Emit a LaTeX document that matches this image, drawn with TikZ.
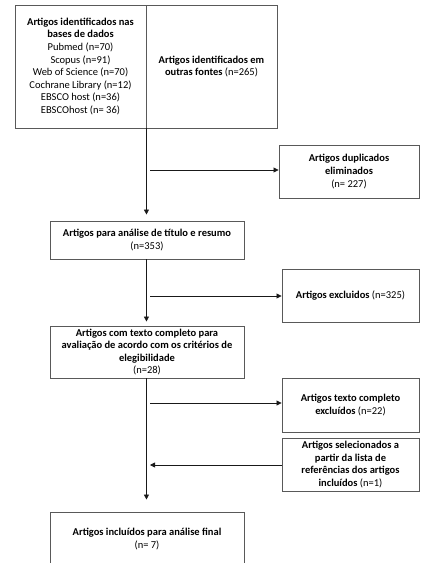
\documentclass[tikz,border=0pt]{standalone}
\usepackage{fontspec}
\setmainfont{Carlito}
\usetikzlibrary{arrows.meta}
\begin{document}
\begin{tikzpicture}[x=1pt,y=-1pt,
  box/.style={draw=black!65, line width=0.9pt, align=center, inner sep=0pt,
    font=\fontsize{10.5}{12.6}\selectfont},
  conn/.style={line width=0.8pt, draw=black!90, -{Triangle[length=5pt,width=5pt]}},
]
\useasboundingbox (0,0) rectangle (424,563);
\clip (0,0) rectangle (424,563);
% top split box
\node[box, minimum width=131pt, minimum height=123pt] (src1) at (80.5,66.5)
  {\textbf{Artigos identificados nas}\\\textbf{bases de dados}\\Pubmed (n=70)\\Scopus (n=91)\\Web of Science (n=70)\\Cochrane Library (n=12)\\EBSCO host (n=36)\\EBSCOhost (n= 36)};
\node[box, minimum width=131pt, minimum height=123pt] (src2) at (211.5,66.5)
  {\textbf{Artigos identificados em}\\\textbf{outras fontes} (n=265)};
% right column
\node[box, minimum width=140pt, minimum height=53pt] (dup) at (349,171.5)
  {\textbf{Artigos duplicados}\\\textbf{eliminados}\\(n= 227)};
\node[box, minimum width=137pt, minimum height=53pt] (excl) at (350.5,295.5)
  {\textbf{Artigos excluidos} (n=325)};
\node[box, minimum width=137pt, minimum height=54pt] (fullex) at (350.5,405)
  {\textbf{Artigos texto completo}\\\textbf{excluídos} (n=22)};
\node[box, minimum width=137pt, minimum height=53pt] (refs) at (350.5,464.5)
  {\textbf{Artigos selecionados a}\\\textbf{partir da lista de}\\\textbf{referências dos artigos}\\\textbf{incluídos} (n=1)};
% main column
\node[box, minimum width=194pt, minimum height=38pt] (screen) at (147,240)
  {\textbf{Artigos para análise de título e resumo}\\(n=353)};
\node[box, minimum width=194pt, minimum height=52pt] (full) at (147,352)
  {\textbf{Artigos com texto completo para}\\\textbf{avaliação de acordo com os critérios de}\\\textbf{elegibilidade}\\(n=28)};
\node[box, minimum width=194pt, minimum height=54pt] (final) at (147,539)
  {\textbf{Artigos incluídos para análise final}\\(n= 7)};
% branch points
\coordinate (a1) at (150,170);
\coordinate (a2) at (150,296);
\coordinate (a3) at (150,403);
\coordinate (a4) at (150,465);
% vertical flow
\draw[conn, shorten >=6pt] (src1.south east) -- (src1.south east |- screen.north);
\draw[conn, shorten >=4pt] (screen.south -| src1.south east) -- (full.north -| src1.south east);
\draw[conn, shorten >=12pt] (full.south -| src1.south east) -- (final.north -| src1.south east);
% side arrows
\draw[conn] (a1) -- (a1 -| dup.west);
\draw[conn] (a2) -- (a2 -| excl.west);
\draw[conn] (a3) -- (a3 -| fullex.west);
\draw[conn] (a4 -| refs.west) -- (a4);
\end{tikzpicture}
\end{document}
